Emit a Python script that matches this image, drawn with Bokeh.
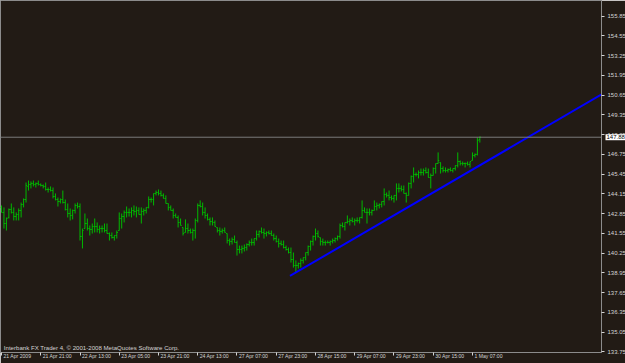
from bokeh.plotting import figure
from bokeh.models import (Range1d, LinearAxis, FixedTicker, PrintfTickFormatter,
                          CustomJSTickFormatter, Span, Label, ColumnDataSource)
from bokeh.embed import file_html
from bokeh.resources import INLINE

# ---------------- data (H1 bars) ----------------
bar_open = [
    143.26, 142.93, 142.20, 142.60, 143.12, 142.93, 142.66, 142.79, 143.06, 143.45,
    143.78, 144.64, 144.77, 144.84, 144.77, 144.84, 144.77, 144.70, 144.64, 144.44,
    144.44, 144.37, 143.98, 143.78, 143.65, 143.78, 143.58, 143.12, 142.86, 142.73,
    143.06, 143.39, 143.32, 141.35, 141.87, 142.20, 141.87, 141.81, 142.00, 142.00,
    141.81, 141.87, 141.87, 141.74, 141.54, 141.41, 141.28, 141.41, 141.74, 142.53,
    142.66, 142.93, 142.93, 142.93, 143.06, 142.99, 143.06, 142.79, 142.99, 143.06,
    143.26, 143.78, 143.78, 144.18, 144.24, 144.18, 144.05, 143.85, 143.52, 143.26,
    143.06, 142.73, 142.60, 142.27, 141.94, 141.61, 141.87, 141.74, 141.61, 141.74,
    142.40, 143.39, 143.32, 142.93, 142.73, 142.47, 142.33, 142.27, 141.94, 141.74,
    141.68, 141.74, 141.54, 141.08, 141.02, 141.15, 140.95, 140.49, 140.49, 140.56,
    140.62, 140.82, 140.95, 140.95, 141.21, 141.48, 141.68, 141.61, 141.54, 141.61,
    141.54, 141.41, 141.21, 141.02, 140.89, 140.82, 140.62, 140.49, 140.29, 139.83,
    139.44, 139.44, 139.57, 139.77, 139.96, 140.29, 140.69, 141.02, 141.35, 141.54,
    141.28, 141.02, 140.95, 140.95, 140.95, 141.02, 141.08, 141.21, 141.35, 142.07,
    142.00, 142.27, 142.33, 142.40, 142.33, 142.40, 142.40, 142.60, 143.06, 142.93,
    142.93, 142.93, 143.06, 143.32, 143.39, 143.45, 143.65, 144.11, 144.05, 143.91,
    143.85, 144.05, 144.51, 144.51, 144.44, 144.18, 144.05, 144.84, 145.30, 145.43,
    145.43, 145.56, 145.56, 145.69, 145.56, 145.23, 145.36, 145.82, 146.15, 146.22,
    145.82, 145.69, 145.69, 145.76, 145.69, 145.82, 146.02, 146.28, 146.15, 146.15,
    146.15, 146.09, 146.35, 146.68, 146.75, 147.73,
]
bar_high = [
    143.39, 143.26, 142.60, 143.19, 143.52, 143.26, 142.93, 143.19, 143.58, 143.85,
    144.90, 145.03, 144.97, 145.03, 144.90, 145.03, 144.84, 144.77, 144.90, 144.57,
    144.64, 144.57, 144.18, 143.91, 143.85, 144.37, 143.78, 143.52, 143.19, 143.12,
    143.52, 143.58, 143.52, 141.87, 142.86, 142.53, 142.07, 142.20, 142.53, 142.27,
    142.07, 142.07, 142.20, 142.20, 141.61, 141.61, 141.41, 141.74, 142.93, 142.86,
    143.06, 143.32, 143.19, 143.26, 143.39, 143.32, 143.26, 143.26, 143.19, 143.26,
    143.98, 143.91, 144.18, 144.37, 144.44, 144.37, 144.18, 144.05, 143.52, 143.39,
    143.19, 142.86, 142.73, 142.53, 141.94, 142.47, 142.20, 141.87, 141.87, 142.53,
    143.52, 143.72, 143.58, 143.26, 142.86, 142.60, 142.60, 142.40, 141.94, 141.94,
    141.87, 141.94, 141.54, 141.21, 141.28, 141.41, 141.08, 140.75, 140.75, 140.82,
    140.89, 141.08, 141.21, 141.21, 141.74, 141.74, 141.94, 141.87, 141.68, 141.74,
    141.74, 141.54, 141.41, 141.21, 141.08, 141.08, 140.75, 140.62, 140.62, 140.29,
    139.77, 139.63, 139.90, 139.96, 140.29, 140.75, 141.08, 141.41, 141.87, 141.74,
    141.28, 141.21, 141.08, 141.08, 141.08, 141.21, 141.28, 141.41, 142.20, 142.27,
    142.27, 142.73, 142.53, 142.60, 142.53, 142.60, 142.60, 143.72, 143.26, 143.19,
    143.19, 143.12, 143.72, 143.58, 143.52, 143.65, 144.51, 144.24, 144.37, 144.05,
    144.05, 144.84, 144.84, 144.70, 144.70, 144.24, 144.90, 145.36, 145.89, 145.56,
    145.69, 145.82, 145.82, 145.89, 145.82, 145.49, 145.89, 146.15, 146.88, 146.22,
    145.96, 145.89, 145.82, 145.89, 145.82, 146.02, 146.88, 146.35, 146.28, 146.22,
    146.28, 146.28, 146.88, 146.81, 147.86, 147.93,
]
bar_low = [
    142.93, 141.87, 141.74, 142.53, 142.86, 142.40, 142.40, 142.40, 142.60, 143.26,
    143.58, 144.37, 144.51, 144.64, 144.57, 144.70, 144.64, 144.51, 144.37, 144.24,
    144.31, 143.85, 143.72, 143.32, 143.52, 143.52, 143.06, 142.60, 142.40, 142.47,
    142.86, 143.19, 141.08, 140.56, 141.87, 141.74, 141.41, 141.54, 141.61, 141.61,
    141.54, 141.61, 141.61, 141.54, 141.08, 141.21, 141.08, 141.21, 141.74, 141.87,
    142.27, 142.60, 142.66, 142.60, 142.73, 142.60, 142.79, 142.20, 142.73, 142.86,
    143.19, 143.58, 143.39, 144.05, 144.05, 143.98, 143.85, 143.52, 143.06, 143.06,
    142.53, 142.60, 141.94, 142.07, 141.41, 141.61, 141.54, 141.54, 141.08, 141.21,
    142.27, 143.26, 142.73, 142.53, 142.40, 142.07, 142.07, 142.00, 141.61, 141.41,
    141.54, 141.61, 140.89, 140.75, 140.82, 140.95, 140.09, 140.23, 140.23, 140.36,
    140.42, 140.69, 140.75, 140.75, 141.08, 141.28, 141.54, 141.21, 141.35, 141.48,
    141.41, 141.08, 140.95, 140.62, 140.75, 140.56, 140.42, 140.23, 139.63, 139.30,
    138.98, 139.24, 139.30, 139.57, 139.77, 140.09, 140.42, 140.75, 141.08, 141.28,
    140.75, 140.75, 140.75, 140.89, 140.75, 140.89, 140.95, 141.08, 141.21, 141.94,
    141.74, 142.20, 142.07, 142.27, 142.07, 142.27, 142.20, 142.53, 142.93, 142.20,
    142.73, 142.73, 143.06, 143.06, 143.19, 143.26, 143.39, 143.91, 143.72, 143.72,
    143.58, 143.72, 144.24, 144.31, 144.18, 143.58, 144.05, 144.51, 144.90, 145.30,
    145.17, 145.36, 145.36, 145.49, 145.23, 144.51, 145.36, 145.49, 146.15, 145.49,
    145.56, 145.56, 145.56, 145.63, 145.56, 145.69, 145.89, 146.02, 146.02, 145.89,
    146.02, 145.89, 146.35, 146.55, 146.68, 147.53,
]
bar_close = [
    142.93, 142.20, 142.53, 143.12, 142.93, 142.66, 142.79, 143.06, 143.45, 143.78,
    144.70, 144.77, 144.84, 144.77, 144.84, 144.77, 144.70, 144.64, 144.44, 144.44,
    144.37, 143.98, 143.78, 143.65, 143.78, 143.58, 143.12, 142.86, 142.73, 143.06,
    143.39, 143.32, 141.35, 141.74, 142.20, 141.87, 141.81, 142.00, 142.00, 141.81,
    141.87, 141.87, 141.74, 141.54, 141.41, 141.28, 141.41, 141.61, 142.53, 142.66,
    142.93, 142.93, 142.93, 143.06, 142.99, 143.06, 142.79, 142.99, 143.06, 143.26,
    143.78, 143.78, 144.18, 144.24, 144.18, 144.05, 143.85, 143.52, 143.26, 143.06,
    142.73, 142.60, 142.27, 142.07, 141.54, 141.87, 141.74, 141.61, 141.74, 142.40,
    143.39, 143.32, 142.93, 142.73, 142.47, 142.33, 142.27, 142.00, 141.74, 141.68,
    141.74, 141.61, 141.08, 141.02, 141.15, 140.95, 140.49, 140.49, 140.56, 140.62,
    140.82, 140.95, 140.95, 141.21, 141.48, 141.68, 141.61, 141.54, 141.61, 141.54,
    141.41, 141.21, 141.02, 140.89, 140.82, 140.62, 140.49, 140.29, 139.83, 139.44,
    139.44, 139.57, 139.77, 139.96, 140.29, 140.69, 141.02, 141.35, 141.54, 141.35,
    141.02, 140.95, 140.95, 140.95, 141.02, 141.08, 141.21, 141.35, 142.07, 142.00,
    142.27, 142.33, 142.40, 142.33, 142.40, 142.40, 142.60, 143.06, 142.93, 142.93,
    142.93, 143.06, 143.32, 143.39, 143.45, 143.65, 144.11, 144.05, 143.91, 143.85,
    144.05, 144.51, 144.51, 144.44, 144.18, 144.05, 144.84, 145.30, 145.43, 145.43,
    145.56, 145.56, 145.69, 145.56, 145.23, 145.36, 145.82, 146.15, 146.35, 145.82,
    145.69, 145.69, 145.76, 145.69, 145.82, 146.02, 146.28, 146.15, 146.15, 146.15,
    146.09, 146.28, 146.68, 146.75, 147.67, 147.88,
]

current_price = 147.88

# trend line anchors (bar index, price)
trend_x = [117.6, 252.0]
trend_y = [138.75, 151.39]

# axis ticks
price_ticks = [155.85, 154.55, 153.25, 151.95, 150.65, 149.35, 148.05, 146.75,
               145.45, 144.15, 142.85, 141.55, 140.25, 138.95, 137.65, 136.35,
               135.05, 133.75]
time_ticks = [0, 16, 32, 48, 64, 80, 96, 112, 128, 144, 160, 176, 192]
time_labels = ["21 Apr 2009", "21 Apr 21:00", "22 Apr 13:00", "23 Apr 05:00",
               "23 Apr 21:00", "24 Apr 13:00", "27 Apr 07:00", "27 Apr 23:00",
               "28 Apr 15:00", "29 Apr 07:00", "29 Apr 23:00", "30 Apr 15:00",
               "1 May 07:00"]
copyright_text = "Interbank FX Trader 4, \u00a9 2001-2008 MetaQuotes Software Corp."

# ---------------- styling ----------------
BG = "#221b15"
FG = "#d4d4d4"
GRID = "#8c8c8c"
BAR = "#00b800"
FONT = "Liberation Sans"
FS = "6px"
TIME_FS_PX = 5.1
FRAME_W, FRAME_H = 601, 352
X0, X1 = -0.41, 244.6
Y0, Y1 = 133.71, 156.88
PX_PER_BAR = FRAME_W / (X1 - X0)

# approximate Liberation Sans advance widths (em) used to set time labels right of their ticks
_W = {" ": 0.278, ":": 0.278, "A": 0.667, "M": 0.833, "p": 0.556, "r": 0.333,
      "a": 0.556, "y": 0.5}
def text_px(s, size):
    return sum(_W.get(ch, 0.556) for ch in s) * size

label_pos = [t + (2.0 + text_px(s, TIME_FS_PX) / 2.0) / PX_PER_BAR
             for t, s in zip(time_ticks, time_labels)]

n = min(len(bar_open), len(bar_high), len(bar_low), len(bar_close))
idx = list(range(n))
src = ColumnDataSource(dict(
    x=idx,
    xl=[i - 0.45 for i in idx],
    xr=[i + 0.45 for i in idx],
    o=bar_open[:n], h=bar_high[:n], l=bar_low[:n], c=bar_close[:n],
))

p = figure(frame_width=FRAME_W, frame_height=FRAME_H,
           x_range=Range1d(X0, X1), y_range=Range1d(Y0, Y1),
           output_backend="svg", toolbar_location=None,
           x_axis_location=None, y_axis_location=None,
           background_fill_color=BG, border_fill_color=BG,
           min_border_left=0, min_border_top=0,
           min_border_right=24, min_border_bottom=11)
p.grid.visible = False
p.outline_line_color = GRID
p.outline_line_width = 1

# OHLC bars
p.segment(x0="x", y0="l", x1="x", y1="h", source=src, line_color=BAR, line_width=1)
p.segment(x0="xl", y0="o", x1="x", y1="o", source=src, line_color=BAR, line_width=1)
p.segment(x0="x", y0="c", x1="xr", y1="c", source=src, line_color=BAR, line_width=1)

# current price line
p.add_layout(Span(location=current_price, dimension="width",
                  line_color="#7a7a7a", line_width=1))

# trend line
p.line(trend_x, trend_y, line_color="#0000ff", line_width=2)

# right price axis
yax = LinearAxis(ticker=FixedTicker(ticks=price_ticks),
                 formatter=PrintfTickFormatter(format="%.2f"))
yax.axis_line_color = GRID
yax.major_tick_line_color = FG
yax.major_tick_in = 0
yax.major_tick_out = 3
yax.minor_tick_line_color = None
yax.major_label_standoff = 3
yax.major_label_text_color = FG
yax.major_label_text_font = FONT
yax.major_label_text_font_size = FS
p.add_layout(yax, "right")

# bottom time axis: tick marks
xax = LinearAxis(ticker=FixedTicker(ticks=time_ticks))
xax.axis_line_color = GRID
xax.major_tick_line_color = FG
xax.major_tick_in = 0
xax.major_tick_out = 3
xax.minor_tick_line_color = None
xax.major_label_standoff = 0
xax.major_label_text_font_size = "0px"
xax.major_label_text_alpha = 0
p.add_layout(xax, "below")

# bottom time axis: labels just right of each tick
xlab = LinearAxis(ticker=FixedTicker(ticks=label_pos),
                  formatter=CustomJSTickFormatter(args=dict(labels=time_labels),
                                                  code="return labels[index]"))
xlab.axis_line_color = None
xlab.major_tick_line_color = None
xlab.major_tick_in = 0
xlab.major_tick_out = 0
xlab.minor_tick_line_color = None
xlab.major_label_standoff = -3
xlab.major_label_text_color = FG
xlab.major_label_text_font = FONT
xlab.major_label_text_font_size = f"{TIME_FS_PX}px"
p.add_layout(xlab, "below")

# current price box on the price axis (side-panel annotation)
p.add_layout(Label(x=-23, y=current_price, x_units="screen", y_units="data",
                   text=f"{current_price:.2f}",
                   text_align="left", text_baseline="middle",
                   text_color="black", text_font=FONT, text_font_size=FS,
                   background_fill_color="white", padding=1), "right")

# copyright text
p.add_layout(Label(x=0.95, y=134.04, text=copyright_text,
                   text_align="left", text_baseline="middle",
                   text_color=FG, text_font=FONT, text_font_size="6.1px"))

open("out.html", "w").write(file_html(p, INLINE))
